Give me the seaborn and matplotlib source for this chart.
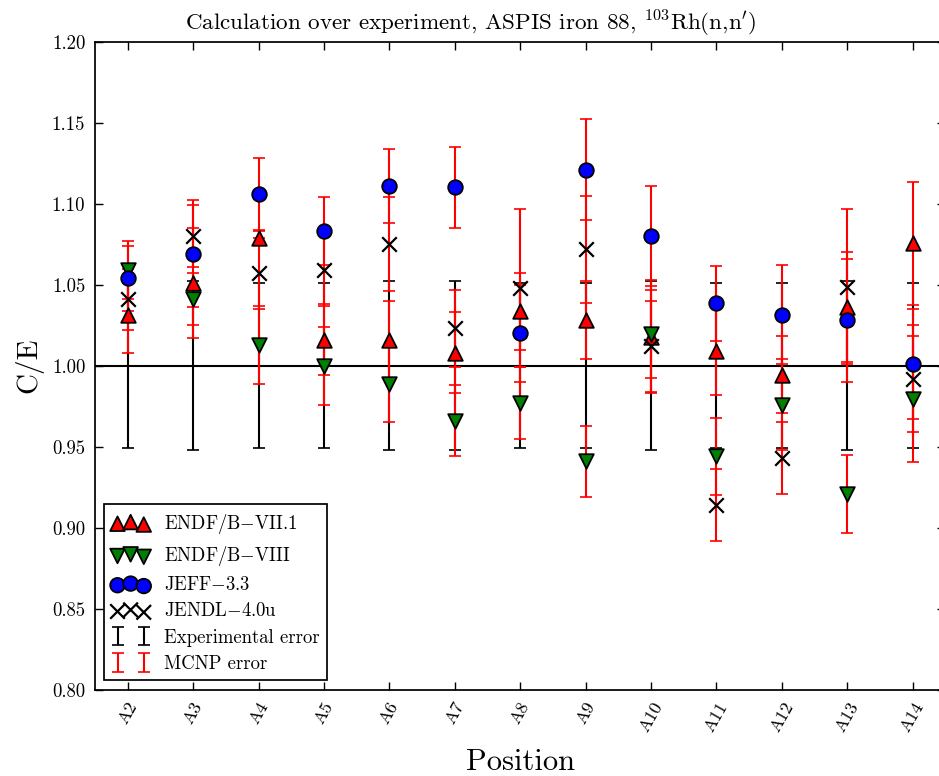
import numpy as np
import matplotlib
matplotlib.use("Agg")
import matplotlib.pyplot as plt
from matplotlib.ticker import FormatStrFormatter, MultipleLocator
import seaborn as sns

# ---------------- data ----------------
positions = ["A2", "A3", "A4", "A5", "A6", "A7", "A8", "A9", "A10", "A11", "A12", "A13", "A14"]

endf71 = [1.031, 1.051, 1.079, 1.016, 1.016, 1.008, 1.0335, 1.028, 1.018, 1.009, 0.9945, 1.036, 1.0755]
endf71_err = [0.023, 0.034, 0.004, 0.022, 0.024, 0.025, 0.024, 0.024, 0.035, 0.027, 0.024, 0.034, 0.038]

endf8 = [1.059, 1.041, 1.013, 1.000, 0.989, 0.966, 0.977, 0.941, 1.0195, 0.944, 0.976, 0.921, 0.9795]
endf8_err = [0.018, 0.016, 0.024, 0.024, 0.024, 0.022, 0.022, 0.022, 0.027, 0.024, 0.028, 0.024, 0.039]

jeff33 = [1.054, 1.069, 1.106, 1.083, 1.111, 1.110, 1.020, 1.121, 1.080, 1.0385, 1.0315, 1.028, 1.001]
jeff33_err = [0.020, 0.033, 0.022, 0.021, 0.023, 0.025, 0.030, 0.031, 0.031, 0.023, 0.0305, 0.038, 0.034]

jendl40u = [1.041, 1.080, 1.057, 1.059, 1.075, 1.023, 1.048, 1.072, 1.012, 0.914, 0.943, 1.0488, 0.992]
jendl40u_err = [0.019, 0.019, 0.022, 0.022, 0.029, 0.024, 0.049, 0.033, 0.028, 0.022, 0.022, 0.048, 0.033]

exp_ratio = [1.0] * 13
exp_err = [0.051, 0.052, 0.051, 0.051, 0.052, 0.052, 0.051, 0.051, 0.052, 0.051, 0.051, 0.052, 0.051]

labels = ["ENDF/B$-$VII.1", "ENDF/B$-$VIII", "JEFF$-$3.3", "JENDL$-$4.0u"]
# ---------------------------------------

sns.set_style("ticks")
plt.rcParams.update({
    "font.family": ["cmr10"],
    "mathtext.fontset": "cm",
    "axes.formatter.use_mathtext": True,
    "axes.edgecolor": "black",
    "axes.linewidth": 1.25,
    "text.color": "black",
    "axes.labelcolor": "black",
    "xtick.color": "black",
    "ytick.color": "black",
    "xtick.direction": "in",
    "ytick.direction": "in",
    "xtick.top": True,
    "ytick.right": True,
    "xtick.major.size": 5.5,
    "ytick.major.size": 5.5,
    "xtick.major.width": 1.0,
    "ytick.major.width": 1.0,
    "legend.scatterpoints": 3,
    "legend.numpoints": 2,
})

fig = plt.figure(figsize=(9.39, 7.76), dpi=100)
ax = fig.add_axes([95 / 939, 86.3 / 776, 850.4 / 939, 648 / 776])

idx = np.arange(len(positions))

ax.axhline(1.0, color="black", lw=1.5, zorder=1)

exp_cont = ax.errorbar(idx, exp_ratio, yerr=exp_err, fmt="none", ecolor="black",
                       elinewidth=1.5, capsize=4.5, capthick=1.2, zorder=1.2,
                       label="Experimental error")

series = [
    (endf71, endf71_err, "^", "red"),
    (endf8, endf8_err, "v", "green"),
    (jeff33, jeff33_err, "o", "blue"),
    (jendl40u, jendl40u_err, "x", "black"),
]

mcnp_cont = None
for vals, errs, mk, col in series:
    c = ax.errorbar(idx, vals, yerr=errs, fmt="none", ecolor="red",
                    elinewidth=1.5, capsize=4.5, capthick=1.2, zorder=2,
                    label="MCNP error")
    if mcnp_cont is None:
        mcnp_cont = c

handles = []
for (vals, errs, mk, col), lab in zip(series, labels):
    if mk == "x":
        sns.scatterplot(x=idx, y=vals, ax=ax, marker="x", s=110, color="black",
                        linewidth=1.6, zorder=3, legend=False)
    else:
        sns.scatterplot(x=idx, y=vals, ax=ax, marker=mk, s=110, color=col,
                        edgecolor="black", linewidth=1.3, zorder=3, legend=False)
    handles.append(ax.collections[-1])

ax.set_xlim(-0.5, len(positions) - 0.5)
ax.set_ylim(0.80, 1.20)
ax.set_xticks(idx)
ax.set_xticklabels(positions, rotation=60, fontsize=13)
ax.yaxis.set_major_locator(MultipleLocator(0.05))
ax.yaxis.set_major_formatter(FormatStrFormatter("%.2f"))
ax.tick_params(axis="y", labelsize=13.5, pad=7)
ax.tick_params(axis="x", pad=7)

ax.set_title(r"Calculation over experiment, ASPIS iron 88, $^{103}$Rh(n,n$'$)",
             fontsize=16.6, pad=8, x=(471 - 95) / 850.4)
ax.set_xlabel("Position", fontsize=22, labelpad=10)
ax.set_ylabel("C/E", fontsize=21, labelpad=6)

leg = ax.legend(handles + [exp_cont, mcnp_cont],
                labels + ["Experimental error", "MCNP error"],
                loc="lower left", fontsize=13.5, fancybox=False, framealpha=1,
                edgecolor="black", borderaxespad=0.5, handlelength=2.0,
                labelspacing=0.44, handletextpad=0.78, borderpad=0.4)
leg.get_frame().set_linewidth(1.25)

fig.savefig("out.png", dpi=100)
